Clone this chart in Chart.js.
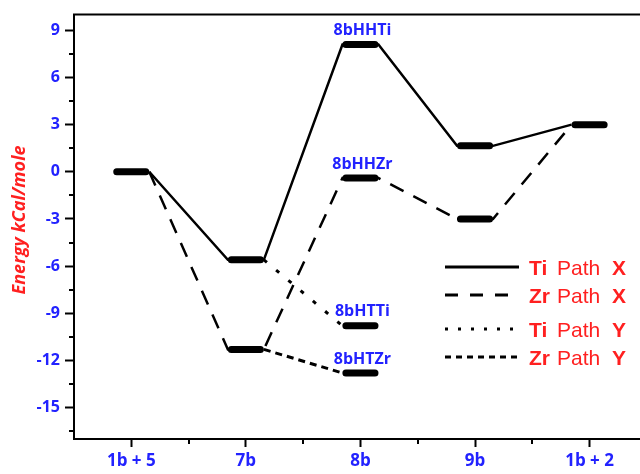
<!DOCTYPE html>
<html>
<head>
<meta charset="utf-8">
<script src="https://cdn.jsdelivr.net/npm/chart.js@4.4.1/dist/chart.umd.min.js"></script>
<style>
    html, body { margin: 0; padding: 0; background: #fff; overflow: hidden; }
    #wrap { width: 640px; height: 474px; }
</style>
</head>
<body>
<div id="wrap"><canvas id="energyChart"></canvas></div>
<script>
/* Data */
var categories = ['1b + 5', '7b', '8b', '9b', '1b + 2'];
var tiPathX = [0, -5.6, 8.1, 1.65, 3.0];   // solid
var zrPathX = [0, -11.3, -0.4, -3.0, 3.0]; // long dash
// Path Y leaves 7b and ends on the head-to-tail species at 8b
var pathYSteps = [1, 2];
var tiPathY = [-5.6, -9.8];
var zrPathY = [-11.3, -12.8];
// Names written over the 8b levels
var stateNames = ['8bHHTi', '8bHHZr', '8bHTTi', '8bHTZr'];
var stateEnergies = [8.1, -0.4, -9.8, -12.8];
var stateStep = 2;
// Axis ticks
var yTicks = [-15, -12, -9, -6, -3, 0, 3, 6, 9];
var yMinorTicks = [-16.5, -13.5, -10.5, -7.5, -4.5, -1.5, 1.5, 4.5, 7.5];
var xMinorTicks = [0.5, 1.5, 2.5, 3.5];

/* Styles */
var blue = '#2222ff';
var red = '#ff2020';
var fontFamily = '"Open Sans", "DejaVu Sans", sans-serif';
var legendFont = '"Liberation Sans", Arial, sans-serif';
var levelHalf = 0.157; // where the connecting lines meet a level
var barHalf = 0.127;   // level bar, round caps add the rest

/* Build a path that runs over each level and down/up to the next one */
function buildPath(steps, values) {
    var pts = [];
    steps.forEach(function(s, i) {
        if (i > 0) pts.push({ x: s - levelHalf, y: values[i] });
        if (i < steps.length - 1) pts.push({ x: s + levelHalf, y: values[i] });
    });
    return pts;
}

/* Every distinct level becomes a short thick bar */
function buildLevels() {
    var levels = categories.map(function() { return []; });
    function add(step, v) {
        if (levels[step].indexOf(v) < 0) levels[step].push(v);
    }
    categories.forEach(function(c, i) {
        add(i, tiPathX[i]);
        add(i, zrPathX[i]);
    });
    pathYSteps.forEach(function(s, i) {
        add(s, tiPathY[i]);
        add(s, zrPathY[i]);
    });
    var pts = [];
    levels.forEach(function(vals, i) {
        vals.forEach(function(v) {
            pts.push({ x: i - barHalf, y: v });
            pts.push({ x: i + barHalf, y: v });
            pts.push({ x: i, y: null });
        });
    });
    return pts;
}

var xSteps = categories.map(function(c, i) { return i; });

/* Extra drawing: top frame, minor ticks, axis title, state names, legend */
var decorPlugin = {
    id: 'decor',
    afterDraw: function(chart) {
        var ctx = chart.ctx;
        var area = chart.chartArea;
        var xs = chart.scales.x;
        var ys = chart.scales.y;
        ctx.save();

        // Top frame line
        ctx.strokeStyle = '#000';
        ctx.lineWidth = 2;
        ctx.beginPath();
        ctx.moveTo(area.left - 1, area.top);
        ctx.lineTo(area.right + 2, area.top);
        ctx.stroke();

        // Minor ticks
        ctx.beginPath();
        yMinorTicks.forEach(function(v) {
            var py = Math.round(ys.getPixelForValue(v));
            ctx.moveTo(area.left - 5, py);
            ctx.lineTo(area.left, py);
        });
        xMinorTicks.forEach(function(v) {
            var px = Math.round(xs.getPixelForValue(v));
            ctx.moveTo(px, area.bottom);
            ctx.lineTo(px, area.bottom + 5);
        });
        ctx.stroke();

        // Y axis title
        ctx.save();
        ctx.translate(20, 220);
        ctx.rotate(-Math.PI / 2);
        ctx.fillStyle = red;
        ctx.font = 'italic bold 18px ' + fontFamily;
        ctx.textAlign = 'center';
        ctx.textBaseline = 'middle';
        ctx.fillText('Energy kCal/mole', 0, 0);
        ctx.restore();

        // State names above the 8b levels
        ctx.fillStyle = blue;
        ctx.font = 'bold 16px ' + fontFamily;
        ctx.textAlign = 'center';
        ctx.textBaseline = 'middle';
        stateNames.forEach(function(name, i) {
            ctx.fillText(name, xs.getPixelForValue(stateStep) + 2, ys.getPixelForValue(stateEnergies[i]) - 14);
        });

        // Legend
        var legendItems = [
            { metal: 'Ti', path: 'X', dash: [] },
            { metal: 'Zr', path: 'X', dash: [13, 12] },
            { metal: 'Ti', path: 'Y', dash: [3, 10] },
            { metal: 'Zr', path: 'Y', dash: [6, 5] }
        ];
        var rowsY = [267, 295, 329, 357];
        legendItems.forEach(function(item, i) {
            var y = rowsY[i];
            ctx.strokeStyle = '#000';
            ctx.lineWidth = 3;
            ctx.setLineDash(item.dash);
            ctx.beginPath();
            ctx.moveTo(445, y);
            ctx.lineTo(519, y);
            ctx.stroke();
            ctx.setLineDash([]);

            ctx.fillStyle = red;
            ctx.textAlign = 'left';
            ctx.textBaseline = 'middle';
            ctx.font = 'bold 21px ' + legendFont;
            ctx.fillText(item.metal, 529, y + 2);
            ctx.font = '21px ' + legendFont;
            ctx.fillText('Path', 557, y + 2);
            ctx.font = 'bold 21px ' + legendFont;
            ctx.fillText(item.path, 612, y + 2);
        });

        ctx.restore();
    }
};

/* Start chart */
var chart = new Chart(document.getElementById('energyChart'), {
    type: 'line',
    data: {
        datasets: [
            {
                label: 'levels',
                data: buildLevels(),
                borderColor: '#000',
                borderWidth: 7,
                borderCapStyle: 'round',
                spanGaps: false
            },
            {
                label: 'Ti Path X',
                data: buildPath(xSteps, tiPathX),
                borderColor: '#000',
                borderWidth: 2.5
            },
            {
                label: 'Zr Path X',
                data: buildPath(xSteps, zrPathX),
                borderColor: '#000',
                borderWidth: 2.5,
                borderDash: [15, 11]
            },
            {
                label: 'Ti Path Y',
                data: buildPath(pathYSteps, tiPathY),
                borderColor: '#000',
                borderWidth: 3,
                borderDash: [4, 12]
            },
            {
                label: 'Zr Path Y',
                data: buildPath(pathYSteps, zrPathY),
                borderColor: '#000',
                borderWidth: 3,
                borderDash: [7, 5]
            }
        ]
    },
    options: {
        responsive: true,
        maintainAspectRatio: false,
        animation: false,
        layout: { padding: { top: 13, right: 0, left: 0, bottom: 0 } },
        elements: {
            point: { radius: 0, hoverRadius: 0 },
            line: { tension: 0, fill: false }
        },
        plugins: {
            legend: { display: false },
            tooltip: { enabled: false }
        },
        scales: {
            x: {
                type: 'linear',
                min: -0.5,
                max: 4.44,
                afterBuildTicks: function(scale) {
                    scale.ticks = xSteps.map(function(v) { return { value: v }; });
                },
                afterFit: function(scale) { scale.height = 35; },
                ticks: {
                    callback: function(v) { return categories[v]; },
                    color: blue,
                    font: { family: fontFamily, size: 17, weight: 'bold' },
                    padding: 4,
                    maxRotation: 0,
                    autoSkip: false
                },
                grid: {
                    drawOnChartArea: false,
                    drawTicks: true,
                    tickLength: 8,
                    tickWidth: 2,
                    tickColor: '#000'
                },
                border: { display: true, color: '#000', width: 2 }
            },
            y: {
                min: -17,
                max: 10,
                afterBuildTicks: function(scale) {
                    scale.ticks = yTicks.map(function(v) { return { value: v }; });
                },
                afterFit: function(scale) { scale.width = 74; },
                ticks: {
                    color: blue,
                    font: { family: fontFamily, size: 16, weight: 'bold' },
                    padding: 5
                },
                grid: {
                    drawOnChartArea: false,
                    drawTicks: true,
                    tickLength: 9,
                    tickWidth: 2,
                    tickColor: '#000'
                },
                border: { display: true, color: '#000', width: 2 }
            }
        }
    },
    plugins: [decorPlugin]
});
</script>
</body>
</html>
